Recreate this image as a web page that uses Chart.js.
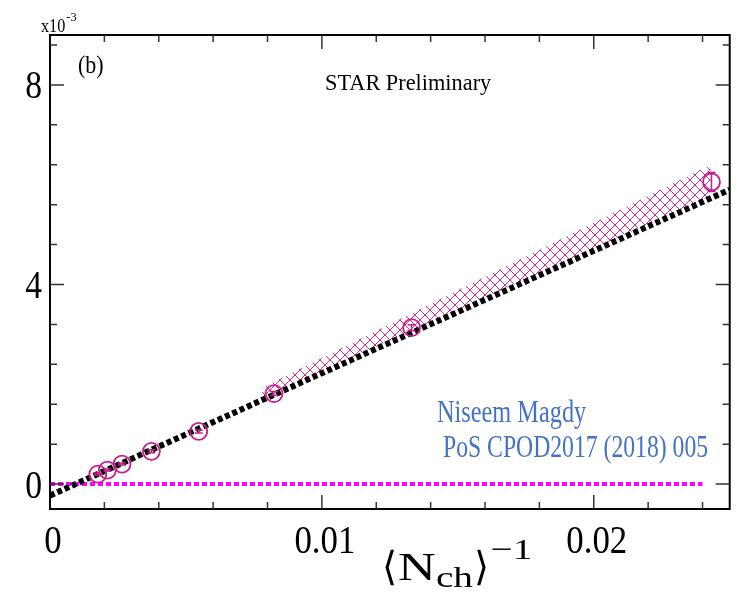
<!DOCTYPE html>
<html>
<head>
<meta charset="utf-8">
<script src="https://cdn.jsdelivr.net/npm/chart.js@4/dist/chart.umd.min.js"></script>
<style>
html,body{margin:0;padding:0;background:#fff;}
canvas{display:block;}
</style>
</head>
<body>
<canvas id="c" width="740" height="594"></canvas>
<script>
// ---- data (y values in units of 1e-3) ----
const ptX   = [0.00176, 0.00211, 0.00265, 0.00373, 0.00547, 0.00824, 0.0133, 0.02433];
const ptY   = [0.20, 0.28, 0.40, 0.655, 1.054, 1.814, 3.134, 6.054];
const ptErr = [0.02, 0.02, 0.02, 0.03, 0.03, 0.04, 0.06, 0.19];

const fitX  = [0, 0.025];
const fitY  = [-0.23, 5.90];

const zeroX = [0, 0.024];
const zeroY = [0, 0];

const bandX     = [0.0078, 0.0243];
const bandUpper = [1.93, 6.40];
const bandLower = [1.72, 5.78];

const xMajor = [0, 0.01, 0.02];
const xMajorLabels = ["0", "0.01", "0.02"];
const xMinor = [0.002, 0.004, 0.006, 0.008, 0.012, 0.014, 0.016, 0.018, 0.022, 0.024];
const yMajor = [0, 4, 8];
const yMajorLabels = ["0", "4", "8"];
const yMinor = [0.8, 1.6, 2.4, 3.2, 4.8, 5.6, 6.4, 7.2, 8.8];

const toPts = (xs, ys) => xs.map((x, i) => ({x: x, y: ys[i]}));

// ---- hatch pattern ----
function makeHatch(color) {
  const s = 10;
  const pc = document.createElement('canvas');
  pc.width = s; pc.height = s;
  const g = pc.getContext('2d');
  g.strokeStyle = color;
  g.lineWidth = 1;
  g.beginPath();
  g.moveTo(-1, -1); g.lineTo(s + 1, s + 1);
  g.moveTo(-1, s + 1); g.lineTo(s + 1, -1);
  g.stroke();
  return g.createPattern(pc, 'repeat');
}
const hatch = makeHatch('#d42a96');

const SERIF = "'Liberation Serif','Times New Roman',serif";

function sText(ctx, text, x, y, font, color, align, sx) {
  ctx.save();
  ctx.font = font;
  ctx.fillStyle = color;
  ctx.textBaseline = 'alphabetic';
  const w = ctx.measureText(text).width * sx;
  let left = x;
  if (align === 'center') left = x - w / 2;
  else if (align === 'right') left = x - w;
  ctx.translate(left, y);
  ctx.scale(sx, 1);
  ctx.textAlign = 'left';
  ctx.fillText(text, 0, 0);
  ctx.restore();
  return w;
}

const deco = {
  id: 'deco',
  afterDatasetsDraw(chart) {
    const ctx = chart.ctx, xs = chart.scales.x, ys = chart.scales.y;
    ctx.save();
    ctx.strokeStyle = '#c71e8c';
    ctx.lineWidth = 1.5;
    ptX.forEach((x, i) => {
      const px = xs.getPixelForValue(x);
      const y1 = ys.getPixelForValue(ptY[i] + ptErr[i]);
      const y2 = ys.getPixelForValue(ptY[i] - ptErr[i]);
      ctx.beginPath();
      ctx.moveTo(px, y1); ctx.lineTo(px, y2);
      ctx.moveTo(px - 4, y1); ctx.lineTo(px + 4, y1);
      ctx.moveTo(px - 4, y2); ctx.lineTo(px + 4, y2);
      ctx.stroke();
    });
    ctx.restore();
  },
  afterDraw(chart) {
    const ctx = chart.ctx, xs = chart.scales.x, ys = chart.scales.y;
    const a = chart.chartArea;
    ctx.save();
    // frame
    ctx.strokeStyle = '#000';
    ctx.lineWidth = 2;
    ctx.strokeRect(a.left, a.top, a.right - a.left, a.bottom - a.top);
    ctx.lineWidth = 1.5;
    ctx.strokeStyle = '#333';
    ctx.beginPath();
    const tick = (vals, len) => {
      vals.forEach(v => {
        const px = xs.getPixelForValue(v);
        ctx.moveTo(px, a.bottom); ctx.lineTo(px, a.bottom - len);
        ctx.moveTo(px, a.top); ctx.lineTo(px, a.top + len);
      });
    };
    const tickY = (vals, len) => {
      vals.forEach(v => {
        const py = ys.getPixelForValue(v);
        ctx.moveTo(a.left, py); ctx.lineTo(a.left + len, py);
        ctx.moveTo(a.right, py); ctx.lineTo(a.right - len, py);
      });
    };
    tick(xMajor.filter(v => v > 0), 14);
    tick(xMinor, 7);
    tickY(yMajor, 14);
    tickY(yMinor, 7);
    ctx.stroke();
    ctx.restore();

    // tick labels
    const tf = '40px ' + SERIF;
    xMajor.forEach((v, i) => {
      sText(ctx, xMajorLabels[i], xs.getPixelForValue(v) + 3, 553, tf, '#000', 'center', 0.87);
    });
    yMajor.forEach((v, i) => {
      sText(ctx, yMajorLabels[i], 42, ys.getPixelForValue(v) + 13.5, tf, '#000', 'right', 0.84);
    });

    // exponent label
    let w = sText(ctx, 'x10', 41, 32, '18px ' + SERIF, '#000', 'left', 0.9);
    sText(ctx, '-3', 41 + w + 1, 21, '13px ' + SERIF, '#000', 'left', 0.95);

    // panel label and STAR
    sText(ctx, '(b)', 78, 73, '25px ' + SERIF, '#000', 'left', 0.88);
    sText(ctx, 'STAR Preliminary', 325, 90, '24px ' + SERIF, '#000', 'left', 0.93);

    // credits
    sText(ctx, 'Niseem Magdy', 437, 422, '32px ' + SERIF, '#4472c4', 'left', 0.76);
    sText(ctx, 'PoS CPOD2017 (2018) 005', 443, 457, '32px ' + SERIF, '#4472c4', 'left', 0.74);

    // x axis title: <N_ch>^-1
    ctx.save();
    const big = '40px ' + SERIF, small = '30px ' + SERIF;
    const parts = [
      {t: '\u27E8', f: big, dy: 0, gap: 1, s: 0.85},
      {t: 'N', f: big, dy: 0, gap: 0, s: 1.15},
      {t: 'ch', f: small, dy: 7, gap: 1, s: 1.15},
      {t: '\u27E9', f: big, dy: 0, gap: 1, s: 0.85},
      {t: '\u22121', f: small, dy: -21, gap: 0, s: 1.15}
    ];
    let total = 0;
    parts.forEach(p => { ctx.font = p.f; p.w = ctx.measureText(p.t).width * p.s; total += p.w + p.gap; });
    const k = 151 / total;
    let cx = 457 - 151 / 2;
    const base = 580;
    parts.forEach(p => {
      sText(ctx, p.t, cx, base + p.dy, p.f, '#000', 'left', p.s * k);
      cx += (p.w + p.gap) * k;
    });
    ctx.restore();
  }
};

new Chart(document.getElementById('c'), {
  type: 'scatter',
  data: {
    datasets: [
      {
        label: 'data',
        data: toPts(ptX, ptY),
        showLine: false,
        pointStyle: 'circle',
        pointRadius: 8.5,
        pointBorderWidth: 1.8,
        pointBorderColor: '#c71e8c',
        pointBackgroundColor: 'rgba(0,0,0,0)',
        order: 0
      },
      {
        label: 'fit',
        data: toPts(fitX, fitY),
        showLine: true,
        borderColor: '#000',
        borderWidth: 6,
        borderDash: [5, 3],
        pointRadius: 0,
        fill: false,
        order: 1
      },
      {
        label: 'zero',
        data: toPts(zeroX, zeroY),
        showLine: true,
        borderColor: '#ff00ff',
        borderWidth: 4,
        borderDash: [5, 3],
        pointRadius: 0,
        fill: false,
        order: 2
      },
      {
        label: 'band upper',
        data: toPts(bandX, bandUpper),
        showLine: true,
        borderColor: 'rgba(0,0,0,0)',
        borderWidth: 0,
        pointRadius: 0,
        backgroundColor: hatch,
        fill: '+1',
        order: 3
      },
      {
        label: 'band lower',
        data: toPts(bandX, bandLower),
        showLine: true,
        borderColor: 'rgba(0,0,0,0)',
        borderWidth: 0,
        pointRadius: 0,
        fill: false,
        order: 4
      }
    ]
  },
  options: {
    responsive: false,
    animation: false,
    devicePixelRatio: 1,
    layout: {padding: {left: 50, right: 6, top: 35, bottom: 85}},
    plugins: {legend: {display: false}, tooltip: {enabled: false}},
    scales: {
      x: {type: 'linear', display: false, min: 0, max: 0.025},
      y: {type: 'linear', display: false, min: -0.5, max: 9}
    }
  },
  plugins: [deco]
});
</script>
</body>
</html>
